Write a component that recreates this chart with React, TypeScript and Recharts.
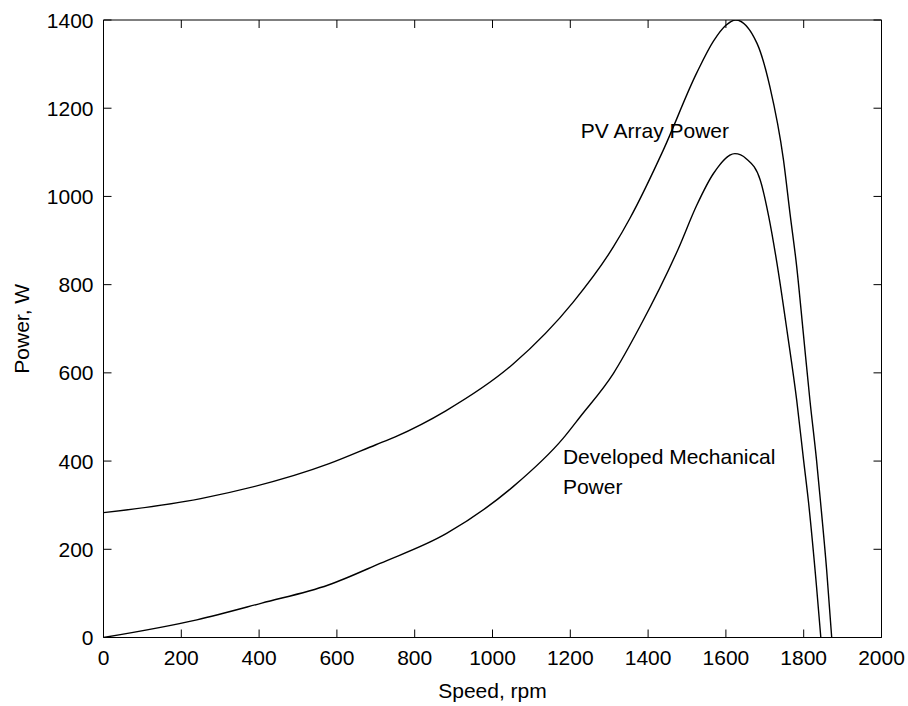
import React from 'react';
import { LineChart, Line, XAxis, YAxis, ReferenceDot } from 'recharts';

const pvRpm = [0, 250, 580, 700, 750, 880, 1053, 1208, 1311, 1353, 1439, 1525, 1568, 1600, 1625, 1680, 1713, 1748, 1765, 1782, 1799, 1816, 1833, 1842, 1859, 1872];
const pvPower = [283, 315, 394, 437, 455, 514, 620, 761, 886, 950, 1105, 1280, 1352, 1388, 1400, 1347, 1249, 1083, 960, 841, 690, 538, 402, 319, 153, 0];

const mechRpm = [0, 240, 407, 578, 711, 882, 1053, 1182, 1225, 1311, 1379, 1478, 1525, 1568, 1623, 1653, 1688, 1710, 1731, 1758, 1782, 1800, 1812, 1833, 1844];
const mechPower = [0, 40, 78, 119, 168, 236, 342, 452, 500, 599, 705, 882, 980, 1052, 1097, 1085, 1038, 955, 850, 690, 538, 400, 310, 115, 0];

const xTicks = [0, 200, 400, 600, 800, 1000, 1200, 1400, 1600, 1800, 2000];
const yTicks = [0, 200, 400, 600, 800, 1000, 1200, 1400];

const pvData = pvRpm.map((r, i) => ({ rpm: r, power: pvPower[i] }));
const mechData = mechRpm.map((r, i) => ({ rpm: r, power: mechPower[i] }));

const FONT = '"Liberation Sans", Arial, sans-serif';
const FS = 21;
const TL = 8;

const BottomTick = (p: any) => (
  <g>
    <line x1={p.x} y1={p.y} x2={p.x} y2={p.y - TL} stroke="#000" strokeWidth={1} />
    <text x={p.x} y={p.y + 12} dy="0.75em" textAnchor="middle" fill="#000" fontSize={FS} fontFamily={FONT}>
      {p.payload.value}
    </text>
  </g>
);
const LeftTick = (p: any) => (
  <g>
    <line x1={p.x} y1={p.y} x2={p.x + TL} y2={p.y} stroke="#000" strokeWidth={1} />
    <text x={p.x - 10} y={p.y} dy="0.36em" textAnchor="end" fill="#000" fontSize={FS} fontFamily={FONT}>
      {p.payload.value}
    </text>
  </g>
);
const TopTick = (p: any) => (
  <line x1={p.x} y1={p.y} x2={p.x} y2={p.y + TL} stroke="#000" strokeWidth={1} />
);
const RightTick = (p: any) => (
  <line x1={p.x} y1={p.y} x2={p.x - TL} y2={p.y} stroke="#000" strokeWidth={1} />
);

export default function App() {
  return (
    <div style={{ position: 'absolute', left: 0, top: 0, width: 908, height: 706, background: '#fff' }}>
      <LineChart width={908} height={706} margin={{ top: 19, right: 25.5, bottom: 0.5, left: 0 }}>
        <XAxis
          xAxisId="b"
          dataKey="rpm"
          type="number"
          domain={[0, 2000]}
          ticks={xTicks}
          allowDataOverflow
          height={68}
          tickSize={0}
          tickMargin={0}
          tickLine={false}
          interval={0}
          stroke="#000"
          tick={BottomTick}
          label={{ value: 'Speed, rpm', position: 'insideBottom', offset: 8, fill: '#000', fontSize: FS, fontFamily: FONT }}
        />
        <XAxis
          xAxisId="t"
          orientation="top"
          dataKey="rpm"
          type="number"
          domain={[0, 2000]}
          ticks={xTicks}
          allowDataOverflow
          height={1}
          tickSize={0}
          tickMargin={0}
          tickLine={false}
          interval={0}
          stroke="#000"
          tick={TopTick}
        />
        <YAxis
          yAxisId="l"
          type="number"
          domain={[0, 1400]}
          ticks={yTicks}
          allowDataOverflow
          width={103.5}
          tickSize={0}
          tickMargin={0}
          tickLine={false}
          interval={0}
          stroke="#000"
          tick={LeftTick}
          label={{ value: 'Power, W', angle: -90, position: 'insideLeft', offset: 22, fill: '#000', fontSize: FS, fontFamily: FONT, style: { textAnchor: 'middle' } }}
        />
        <YAxis
          yAxisId="r"
          orientation="right"
          type="number"
          domain={[0, 1400]}
          ticks={yTicks}
          allowDataOverflow
          width={1}
          tickSize={0}
          tickMargin={0}
          tickLine={false}
          interval={0}
          stroke="#000"
          tick={RightTick}
        />
        <Line
          xAxisId="b"
          yAxisId="l"
          data={pvData}
          dataKey="power"
          type="monotone"
          stroke="#000"
          strokeWidth={1.4}
          dot={false}
          isAnimationActive={false}
        />
        <Line
          xAxisId="b"
          yAxisId="l"
          data={mechData}
          dataKey="power"
          type="monotone"
          stroke="#000"
          strokeWidth={1.4}
          dot={false}
          isAnimationActive={false}
        />
        <ReferenceDot xAxisId="b" yAxisId="l" x={1227} y={1150} r={0} fill="none" stroke="none"
          label={{ value: 'PV Array Power', position: 'right', offset: 0, fill: '#000', fontSize: FS, fontFamily: FONT }} />
        <ReferenceDot xAxisId="b" yAxisId="l" x={1181} y={411} r={0} fill="none" stroke="none"
          label={{ value: 'Developed Mechanical', position: 'right', offset: 0, fill: '#000', fontSize: FS, fontFamily: FONT }} />
        <ReferenceDot xAxisId="b" yAxisId="l" x={1181} y={343} r={0} fill="none" stroke="none"
          label={{ value: 'Power', position: 'right', offset: 0, fill: '#000', fontSize: FS, fontFamily: FONT }} />
      </LineChart>
    </div>
  );
}
